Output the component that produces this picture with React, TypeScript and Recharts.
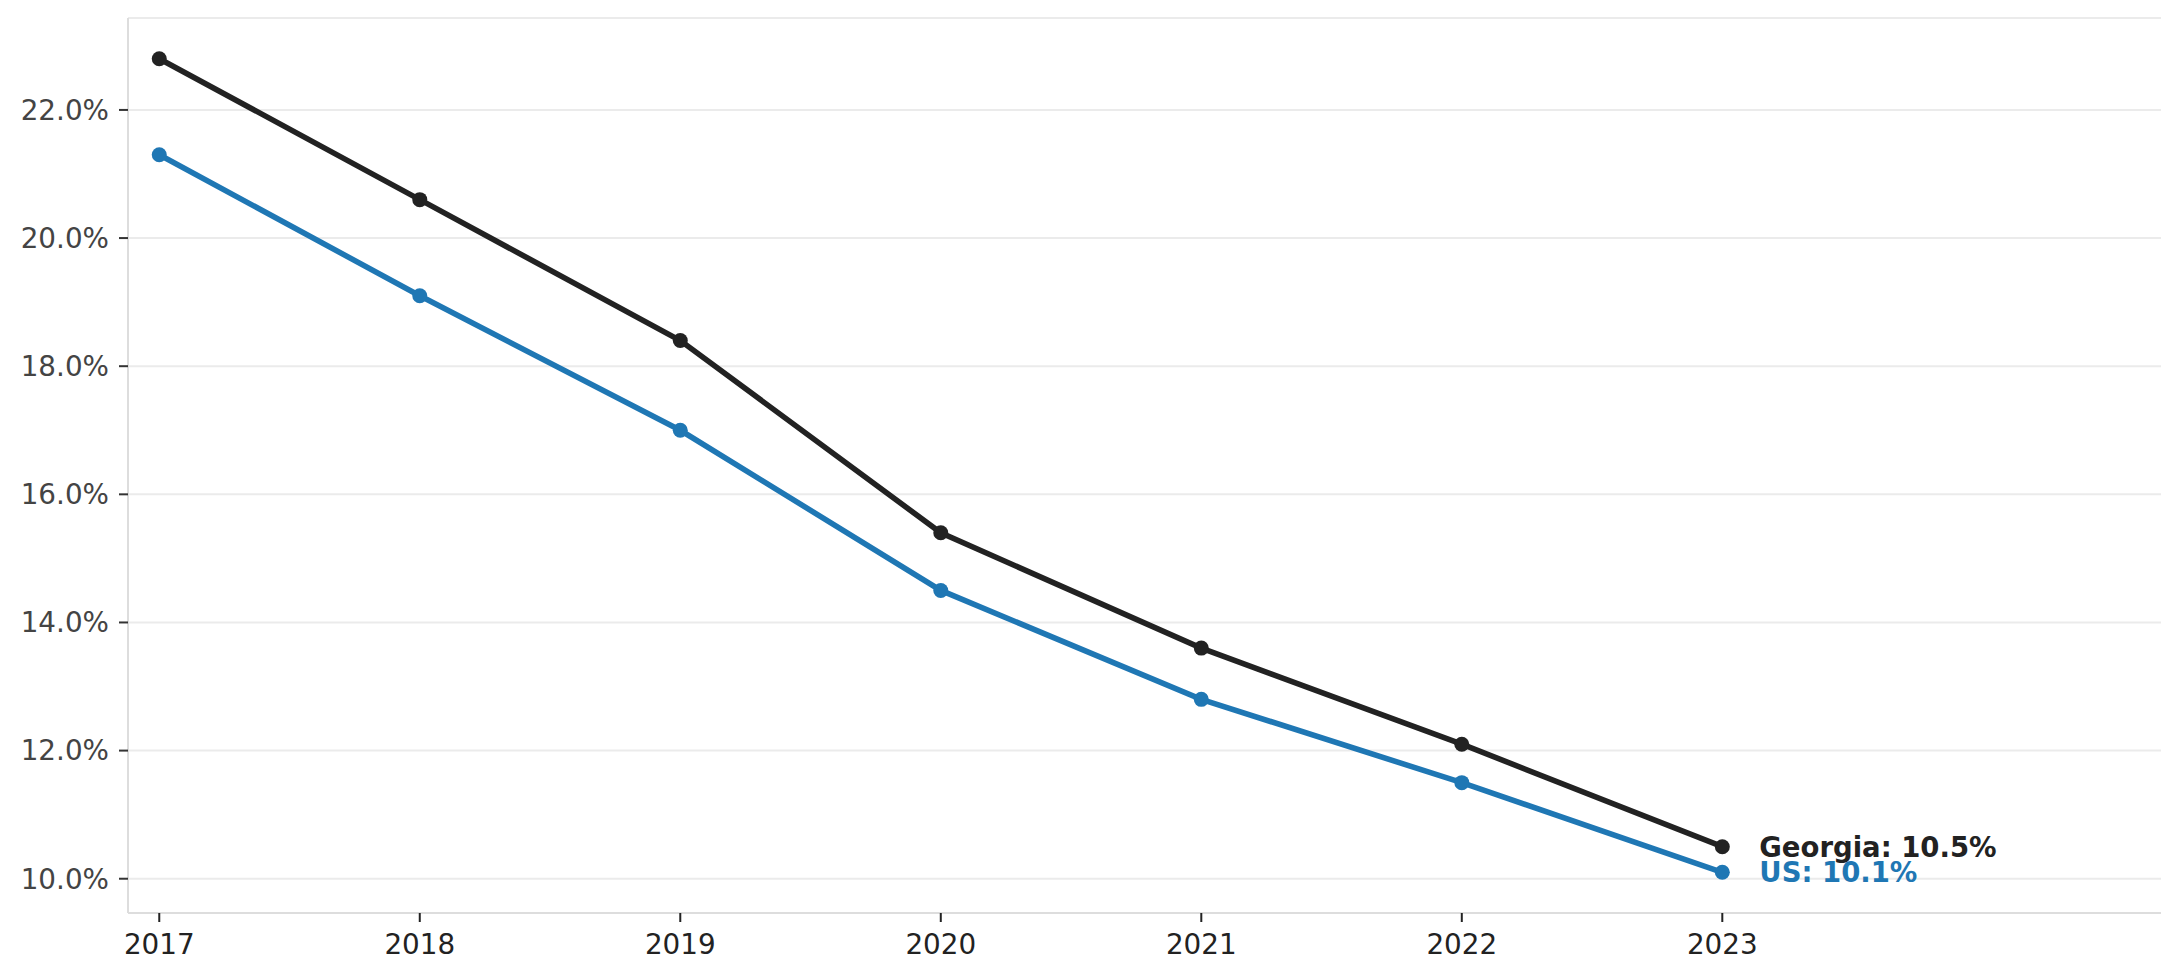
import * as React from 'react'
import {
  LineChart,
  Line,
  XAxis,
  YAxis,
  CartesianGrid,
} from 'recharts'

const years = [2017, 2018, 2019, 2020, 2021, 2022, 2023]
const georgia = [22.8, 20.6, 18.4, 15.4, 13.6, 12.1, 10.5]
const us = [21.3, 19.1, 17.0, 14.5, 12.8, 11.5, 10.1]
const yTicks = [10, 12, 14, 16, 18, 20, 22]

const GEORGIA_COLOR = '#222222'
const US_COLOR = '#1f77b4'
const FONT = '"DejaVu Sans", sans-serif'

const data = years.map((year, i) => ({ year, georgia: georgia[i], us: us[i] }))

// text next to the last point only
const endLabel = (name: string, color: string, values: number[]) => (props: any) => {
  const { x, y, index } = props
  if (index !== values.length - 1) return null
  return (
    <text
      x={x + 37}
      y={y}
      dy="0.36em"
      fill={color}
      fontSize={27.5}
      fontWeight="bold"
      fontFamily={FONT}
    >
      {`${name}: ${values[index].toFixed(1)}%`}
    </text>
  )
}

const App: React.FC = () => {
  return (
    <div style={{ position: 'fixed', left: 0, top: 0, width: 2180, height: 980, background: '#fff' }}>
      <LineChart
        width={2180}
        height={980}
        data={data}
        margin={{ top: 18, right: 19, left: 8, bottom: 17 }}
      >
        <CartesianGrid vertical={false} stroke="#ebebeb" strokeWidth={2} />
        <XAxis
          dataKey="year"
          type="number"
          domain={[2016.88, 2024.684]}
          ticks={years}
          allowDataOverflow
          height={50}
          axisLine={{ stroke: '#dddddd', strokeWidth: 2 }}
          tickLine={{ stroke: '#222222', strokeWidth: 2 }}
          tickSize={9}
          tickMargin={12}
          tick={{ fill: '#222222', fontSize: 27.8, fontFamily: FONT }}
        />
        <YAxis
          type="number"
          domain={[9.465, 23.435]}
          ticks={yTicks}
          allowDataOverflow
          width={120}
          axisLine={{ stroke: '#dddddd', strokeWidth: 2 }}
          tickLine={{ stroke: '#333333', strokeWidth: 2 }}
          tickSize={9}
          tickMargin={10}
          tickFormatter={(v: number) => `${v.toFixed(1)}%`}
          tick={{ fill: '#444444', fontSize: 27.8, fontFamily: FONT }}
        />
        <Line
          dataKey="us"
          stroke={US_COLOR}
          strokeWidth={5.6}
          dot={{ r: 7.5, fill: US_COLOR, stroke: US_COLOR, strokeWidth: 0 }}
          activeDot={false}
          isAnimationActive={false}
          label={endLabel('US', US_COLOR, us)}
        />
        <Line
          dataKey="georgia"
          stroke={GEORGIA_COLOR}
          strokeWidth={5.6}
          dot={{ r: 7.5, fill: GEORGIA_COLOR, stroke: GEORGIA_COLOR, strokeWidth: 0 }}
          activeDot={false}
          isAnimationActive={false}
          label={endLabel('Georgia', GEORGIA_COLOR, georgia)}
        />
      </LineChart>
    </div>
  )
}

export default App
